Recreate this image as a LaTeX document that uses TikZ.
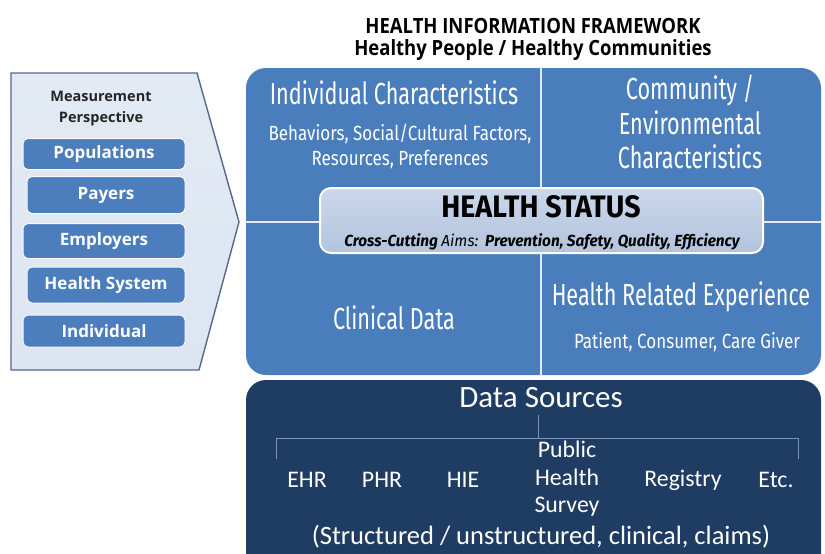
\documentclass[tikz,border=0pt]{standalone}
\usepackage{fontspec}
\setmainfont{Carlito}
\newfontfamily\agency[FakeStretch=0.71]{Fira Sans}
\newfontfamily\agencysmall[FakeStretch=0.83]{Fira Sans}
\newfontfamily\agencybold[FakeStretch=0.92]{Fira Sans}
\newfontfamily\agencyital[FakeStretch=0.96]{Fira Sans}
\newfontfamily\segoe{Open Sans}
\newfontfamily\titlefont[FakeStretch=0.88]{Open Sans}
\definecolor{mainblue}{HTML}{4A7DBC}
\definecolor{navy}{HTML}{1F3C63}
\definecolor{chevfill}{HTML}{DCE5F1}
\definecolor{chevline}{HTML}{56698A}
\definecolor{hstop}{HTML}{CBD7EA}
\definecolor{hsbot}{HTML}{B2C4DE}
\definecolor{itemfill}{HTML}{4C7EBE}
\definecolor{bracket}{HTML}{7E93B3}
\begin{document}
\begin{tikzpicture}[x=1pt,y=-1pt,
  every node/.style={inner sep=0pt, outer sep=0pt},
  mainbox/.style={rectangle, rounded corners=20pt, fill=mainblue},
  navybox/.style={rectangle, rounded corners=20pt, fill=navy},
  divider/.style={draw=white!85!mainblue, line width=1.6pt},
  chev/.style={top color=chevfill!80!white, bottom color=chevfill, draw=chevline, line width=1.4pt, line join=miter},
  item/.style={rectangle, rounded corners=5pt, fill=itemfill, draw=white!80!chevfill, line width=1pt,
    text=white, font=\segoe\bfseries\fontsize{17}{20}\selectfont},
  hsbox/.style={rectangle, rounded corners=11pt, top color=hstop, bottom color=hsbot, draw=white, line width=2pt},
  bigw/.style={text=white, font=\agency\fontsize{30.5}{34.5}\selectfont, align=center},
  smallw/.style={text=white, font=\agencysmall\fontsize{20.5}{25}\selectfont, align=center},
  dsw/.style={text=white, font=\fontsize{23.8}{27.5}\selectfont, align=center},
  brk/.style={draw=bracket, line width=0.8pt}
]
\useasboundingbox (0,0) rectangle (825,554);
\fill[white] (0,0) rectangle (825,554);

% title
\node[font=\titlefont\bfseries\fontsize{21}{22}\selectfont, align=center] (title) at (533,39)
  {HEALTH INFORMATION FRAMEWORK\\Healthy People / Healthy Communities};

% left chevron
\draw[chev] (11,73) -- (197,73) -- (239,222) -- (199,370) -- (11,370) -- cycle;
\node[font=\segoe\bfseries\fontsize{14.5}{21}\selectfont, align=center, text=black!85] (mp) at (101,109)
  {Measurement\\Perspective};
\node[item, minimum width=162pt, minimum height=31pt] (pop) at (104,154) {Populations};
\node[item, minimum width=158pt, minimum height=37pt] (pay) at (106,195) {Payers};
\node[item, minimum width=162pt, minimum height=35pt] (emp) at (104,241) {Employers};
\node[item, minimum width=158pt, minimum height=36pt] (hsys) at (106,285) {Health System};
\node[item, minimum width=162pt, minimum height=32pt] (ind) at (104,331) {Individual};

% main box
\node[mainbox, minimum width=575pt, minimum height=307pt] (main) at (533.5,221.5) {};
\coordinate (vtop) at (541,68);
\coordinate (vbot) at (541,375);
\coordinate (hleft) at (246,222);
\coordinate (hright) at (821,222);
\draw[divider] (vtop) -- (vbot);
\draw[divider] (hleft) -- (hright);

\node[bigw] (ic) at (394,93) {Individual Characteristics};
\node[smallw] (icsub) at (400,146) {Behaviors, Social/Cultural Factors,\\Resources, Preferences};
\node[bigw] (cec) at (690,122) {Community /\\Environmental\\Characteristics};
\node[bigw] (cd) at (394,318) {Clinical Data};
\node[bigw] (hre) at (681,297) {Health Related Experience};
\node[smallw] (hresub) at (687,342) {Patient, Consumer, Care Giver};

% health status
\node[hsbox, minimum width=443pt, minimum height=65pt] (hs) at (541.5,220.5) {};
\node[font=\agencybold\bfseries\fontsize{31}{33}\selectfont] (hst) at (541,207) {HEALTH STATUS};
\node[font=\agencyital\bfseries\itshape\fontsize{16}{18}\selectfont] (cca) at (542,242)
  {Cross-Cutting {\mdseries Aims:}\ \ Prevention, Safety, Quality, Efficiency};

% data sources
\begin{scope}
\clip (0,0) rectangle (825,554);
\node[navybox, minimum width=575pt, minimum height=200pt] (ds) at (533.5,480) {};
\end{scope}
\node[text=white, font=\fontsize{31}{33}\selectfont] (dst) at (541,398) {Data Sources};
\coordinate (bt) at (538,415);
\coordinate (bm) at (538,438);
\coordinate (bl) at (276,438);
\coordinate (blb) at (276,459);
\coordinate (br) at (798,438);
\coordinate (brb) at (798,459);
\draw[brk] (bt) -- (bm);
\draw[brk] (blb) -- (bl) -- (br) -- (brb);
\node[dsw] (ehr) at (307,480) {EHR};
\node[dsw] (phr) at (382,480) {PHR};
\node[dsw] (hie) at (463,480) {HIE};
\node[dsw] (phs) at (567,479) {Public\\Health\\Survey};
\node[dsw] (reg) at (683,480) {Registry};
\node[dsw] (etc) at (776,480) {Etc.};
\node[text=white, font=\fontsize{26.5}{28}\selectfont] (struct) at (541,537)
  {(Structured / unstructured, clinical, claims)};
\end{tikzpicture}
\end{document}
